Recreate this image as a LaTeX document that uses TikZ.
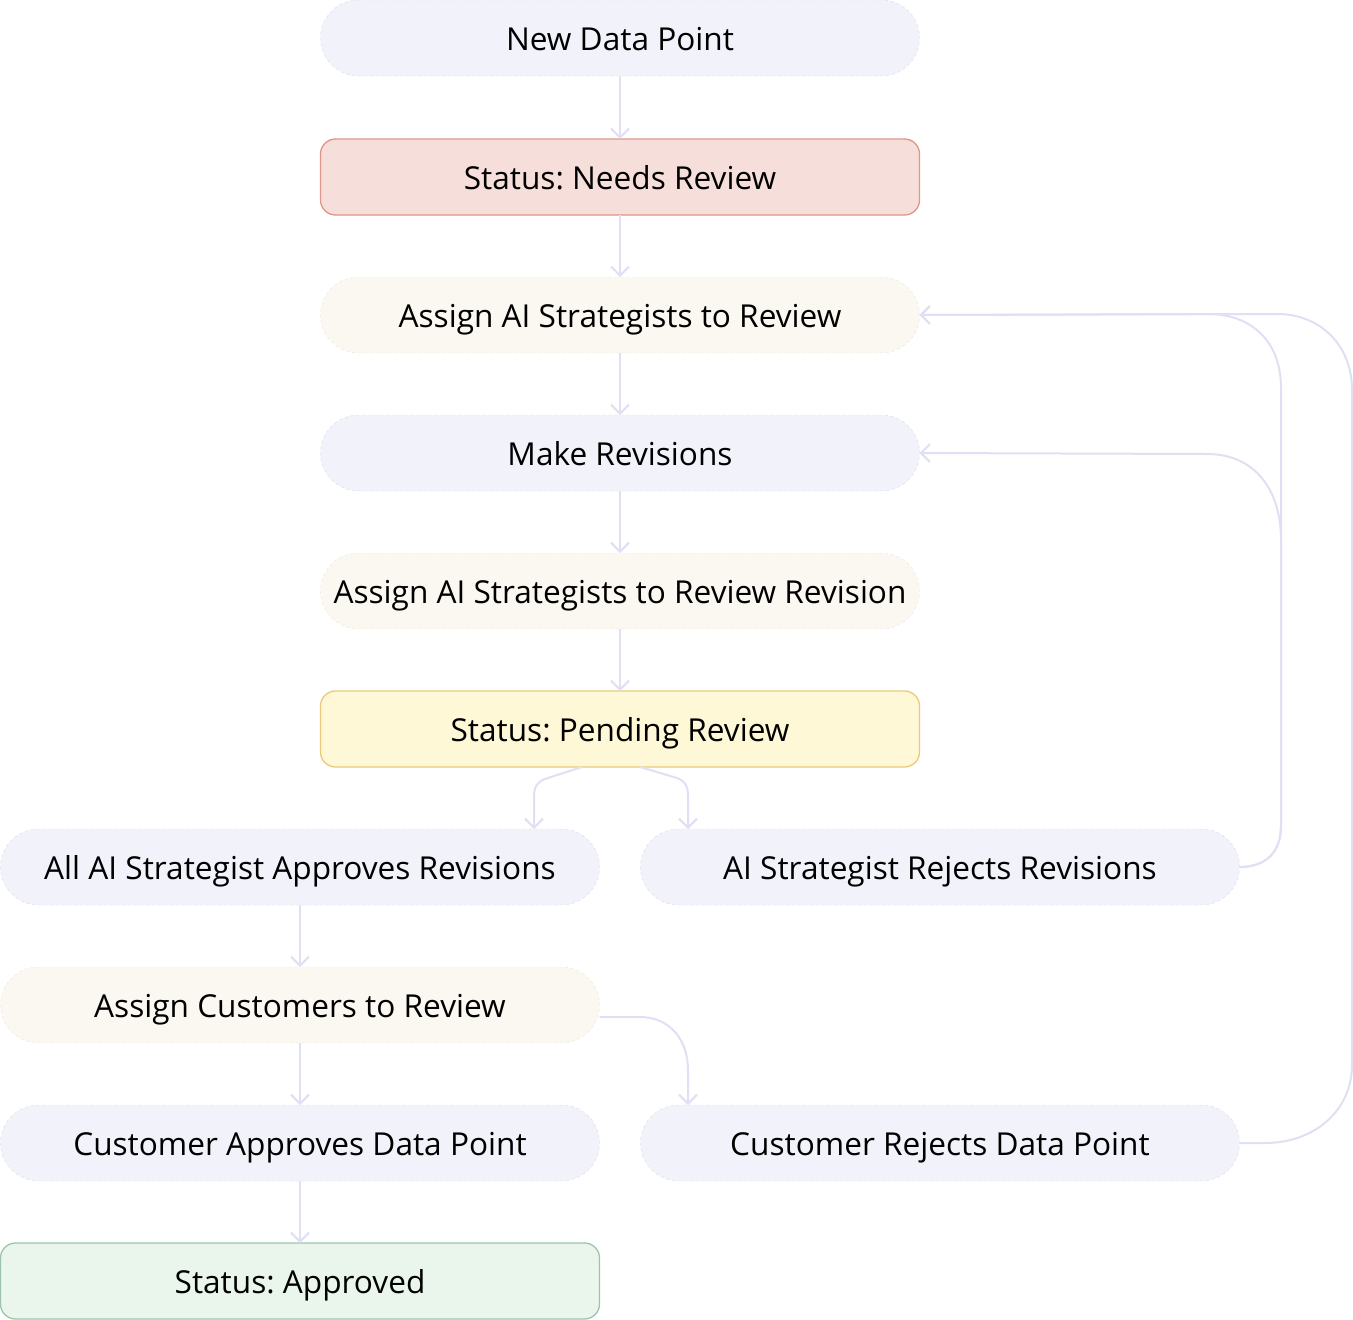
\documentclass[tikz,border=0pt]{standalone}
\usepackage{fontspec}
\setmainfont{Open Sans}
\frenchspacing
\usetikzlibrary{arrows.meta,calc}
\definecolor{lav}{HTML}{F1F2FA}
\definecolor{lavline}{HTML}{D9DAEC}
\definecolor{cream}{HTML}{FAF8F0}
\definecolor{creamline}{HTML}{E8E5DA}
\definecolor{redfill}{HTML}{F6DFDA}
\definecolor{redline}{HTML}{E0958A}
\definecolor{yelfill}{HTML}{FEF8D6}
\definecolor{yelline}{HTML}{EBC97C}
\definecolor{grnfill}{HTML}{EAF6EC}
\definecolor{grnline}{HTML}{9DC4AB}
\definecolor{edgec}{HTML}{E0DFF3}
\tikzset{
  base/.style={minimum width=599pt,minimum height=76pt,inner sep=0pt,outer sep=0pt,
    text height=24pt,text depth=0pt,
    font=\fontsize{31.6}{38}\selectfont,text=black},
  pill/.style={base,rounded corners=38pt,fill=lav,draw=lavline,dashed,line width=0.4pt},
  pillc/.style={base,rounded corners=38pt,fill=cream,draw=creamline,dashed,line width=0.4pt},
  statusbox/.style={base,rounded corners=15pt,line width=1.3pt},
  edge/.style={draw=edgec,line width=2pt,-{Straight Barb[length=9pt,width=18pt,line width=2pt]}},
}
\begin{document}
\begin{tikzpicture}[x=1pt,y=-1pt]
\useasboundingbox (0,0) rectangle (1353,1320);
\node[pill] (ndp) at (620,38) {New Data Point};
\node[statusbox,fill=redfill,draw=redline] (nreview) at (620,177) {Status: Needs Review};
\node[pillc] (assign1) at (620,315) {Assign AI Strategists to Review};
\node[pill] (revise) at (620,453) {Make Revisions};
\node[pillc] (assign2) at (620,591) {Assign AI Strategists to Review Revision};
\node[statusbox,fill=yelfill,draw=yelline] (pending) at (620,729) {Status: Pending Review};
\node[pill] (approveAI) at (300,867) {All AI Strategist Approves Revisions};
\node[pill] (rejectAI) at (940,867) {AI Strategist Rejects Revisions};
\node[pillc] (assignC) at (300,1005) {Assign Customers to Review};
\node[pill] (custApprove) at (300,1143) {Customer Approves Data Point};
\node[pill] (custReject) at (940,1143) {Customer Rejects Data Point};
\node[statusbox,fill=grnfill,draw=grnline] (approved) at (300,1281) {Status: Approved};

\draw[edge] (ndp.south) -- (nreview.north);
\draw[edge] (nreview.south) -- (assign1.north);
\draw[edge] (assign1.south) -- (revise.north);
\draw[edge] (revise.south) -- (assign2.north);
\draw[edge] (assign2.south) -- (pending.north);
\draw[edge] ($(pending.south)+(-38,0)$) -- (545,779) .. controls (537,782) and (534,787) .. (534,797) -- (approveAI.north -| 534,0);
\draw[edge] ($(pending.south)+(20,0)$) -- (677,778) .. controls (685,781) and (688,786) .. (688,796) -- (rejectAI.north -| 688,0);
\draw[edge] (approveAI.south) -- (assignC.north);
\draw[edge] (assignC.south) -- (custApprove.north);
\draw[edge] (custApprove.south) -- (approved.north);
\draw[edge] ($(assignC.east)+(0,12)$) -- (640,1017) .. controls (670,1017) and (688,1040) .. (688,1070) -- (custReject.north -| 688,0);
\draw[edge] (rejectAI.east) .. controls (1268,867) and (1281,850) .. (1281,826) -- (1281,388) .. controls (1281,340) and (1250,314) .. (1208,314) -- (assign1.east);
\draw[edge] (rejectAI.east) .. controls (1268,867) and (1281,850) .. (1281,826) -- (1281,540) .. controls (1281,490) and (1255,454) .. (1207,454) -- (revise.east);
\draw[edge] (custReject.east) -- (1265,1143) .. controls (1315,1143) and (1352,1110) .. (1352,1065) -- (1352,390) .. controls (1352,345) and (1320,314) .. (1277,314) -- (assign1.east);
\end{tikzpicture}
\end{document}
